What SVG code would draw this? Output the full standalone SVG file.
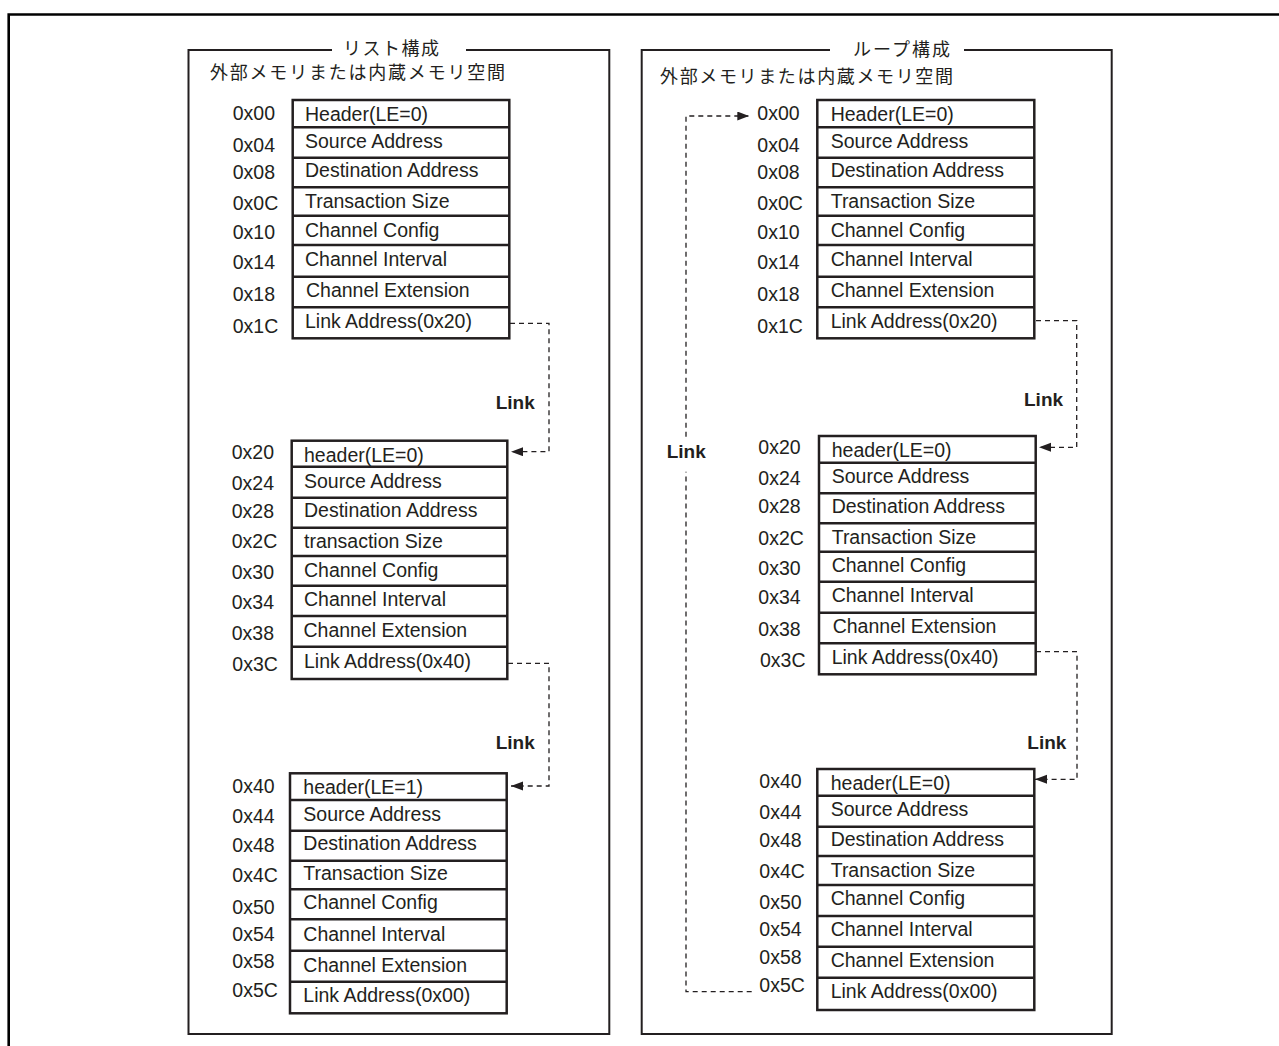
<svg xmlns="http://www.w3.org/2000/svg" width="1279" height="1046" viewBox="0 0 1279 1046">
<style>
.frame{fill:none;stroke:#000;stroke-width:2.6}
.panel{fill:none;stroke:#231f20;stroke-width:2}
.tbl{fill:#fff;stroke:#231f20;stroke-width:2.5}
.div{stroke:#231f20;stroke-width:2.5}
.t{font-family:"Liberation Sans",Arial,sans-serif;font-size:19.5px;fill:#231f20}
.lk{font-family:"Liberation Sans",Arial,sans-serif;font-size:19px;font-weight:bold;fill:#231f20}
.jp{font-family:"Noto Sans CJK JP","Noto Sans CJK SC",sans-serif;font-size:18px;fill:#231f20}
.dash{fill:none;stroke:#231f20;stroke-width:1.3;stroke-dasharray:5 4}
</style>
<defs>
<marker id="ah" markerUnits="userSpaceOnUse" markerWidth="12" markerHeight="10" refX="12" refY="4.5" orient="auto">
<path d="M0,0 L12,4.5 L0,9 z" fill="#231f20"/>
</marker>
</defs>
<rect width="1279" height="1046" fill="#fff"/>
<path class="frame" d="M8.7 1046 V14.5 H1279"/>

<g id="panel-list">
<path class="panel" d="M332 50 H188.5 V1034 H609.3 V50 H466"/>
<text class="jp" x="343" y="55" textLength="96">リスト構成</text>
<text class="jp" x="210" y="79" textLength="295">外部メモリまたは内蔵メモリ空間</text>
</g>
<g id="panel-loop">
<path class="panel" d="M830 50 H641.7 V1034 H1111.7 V50 H964"/>
<text class="jp" x="853" y="56" textLength="97">ループ構成</text>
<text class="jp" x="660" y="83" textLength="293">外部メモリまたは内蔵メモリ空間</text>
</g>

<g id="list-desc0">
<rect class="tbl" x="292.7" y="100" width="216.6" height="238.3"/>
<path class="div" d="M292.7 127.3H509.3M292.7 157.7H509.3M292.7 187.3H509.3M292.7 215.7H509.3M292.7 245H509.3M292.7 276.7H509.3M292.7 307.3H509.3"/>
<text class="t" x="305" y="120.7">Header(LE=0)</text>
<text class="t" x="305" y="148.3">Source Address</text>
<text class="t" x="305" y="176.7">Destination Address</text>
<text class="t" x="305" y="207.7">Transaction Size</text>
<text class="t" x="305" y="237.3">Channel Config</text>
<text class="t" x="305" y="266">Channel Interval</text>
<text class="t" x="306" y="296.7">Channel Extension</text>
<text class="t" x="305" y="327.7">Link Address(0x20)</text>
<text class="t" x="232.7" y="120">0x00</text>
<text class="t" x="232.7" y="151.7">0x04</text>
<text class="t" x="232.7" y="179.3">0x08</text>
<text class="t" x="232.7" y="210">0x0C</text>
<text class="t" x="232.7" y="239">0x10</text>
<text class="t" x="232.7" y="269.3">0x14</text>
<text class="t" x="232.7" y="300.7">0x18</text>
<text class="t" x="232.7" y="332.7">0x1C</text>
</g>

<g id="list-desc1">
<rect class="tbl" x="291.7" y="440.7" width="215.6" height="238.3"/>
<path class="div" d="M291.7 466.7H507.3M291.7 497.7H507.3M291.7 527.7H507.3M291.7 556H507.3M291.7 585.7H507.3M291.7 616H507.3M291.7 646.7H507.3"/>
<text class="t" x="304" y="461.7">header(LE=0)</text>
<text class="t" x="304" y="488.3">Source Address</text>
<text class="t" x="304" y="517.3">Destination Address</text>
<text class="t" x="304" y="548.3">transaction Size</text>
<text class="t" x="304" y="576.7">Channel Config</text>
<text class="t" x="304" y="606">Channel Interval</text>
<text class="t" x="303.5" y="637.3">Channel Extension</text>
<text class="t" x="304" y="667.7">Link Address(0x40)</text>
<text class="t" x="231.7" y="459">0x20</text>
<text class="t" x="231.7" y="490">0x24</text>
<text class="t" x="231.7" y="518.3">0x28</text>
<text class="t" x="231.7" y="548.3">0x2C</text>
<text class="t" x="231.7" y="579.3">0x30</text>
<text class="t" x="231.7" y="609.3">0x34</text>
<text class="t" x="231.7" y="640">0x38</text>
<text class="t" x="232.3" y="671">0x3C</text>
</g>

<g id="list-desc2">
<rect class="tbl" x="290" y="773.3" width="216.7" height="240"/>
<path class="div" d="M290 800H506.7M290 830.7H506.7M290 860.7H506.7M290 889.3H506.7M290 919.3H506.7M290 950.7H506.7M290 981.7H506.7"/>
<text class="t" x="303.3" y="794">header(LE=1)</text>
<text class="t" x="303.3" y="820.7">Source Address</text>
<text class="t" x="303.3" y="850">Destination Address</text>
<text class="t" x="303.3" y="880">Transaction Size</text>
<text class="t" x="303.3" y="909.3">Channel Config</text>
<text class="t" x="303.3" y="940.7">Channel Interval</text>
<text class="t" x="303.3" y="971.7">Channel Extension</text>
<text class="t" x="303.3" y="1001.7">Link Address(0x00)</text>
<text class="t" x="232.3" y="793.3">0x40</text>
<text class="t" x="232.3" y="823.3">0x44</text>
<text class="t" x="232.3" y="851.7">0x48</text>
<text class="t" x="232.3" y="881.7">0x4C</text>
<text class="t" x="232.3" y="914.3">0x50</text>
<text class="t" x="232.3" y="941">0x54</text>
<text class="t" x="232.3" y="968.3">0x58</text>
<text class="t" x="232.3" y="997.3">0x5C</text>
</g>

<g id="loop-desc0">
<rect class="tbl" x="817.3" y="100" width="217" height="238.3"/>
<path class="div" d="M817.3 127.3H1034.3M817.3 157.7H1034.3M817.3 187.3H1034.3M817.3 215.7H1034.3M817.3 245H1034.3M817.3 276.7H1034.3M817.3 307.3H1034.3"/>
<text class="t" x="830.7" y="120.7">Header(LE=0)</text>
<text class="t" x="830.7" y="148.3">Source Address</text>
<text class="t" x="830.7" y="176.7">Destination Address</text>
<text class="t" x="830.7" y="207.7">Transaction Size</text>
<text class="t" x="830.7" y="237.3">Channel Config</text>
<text class="t" x="830.7" y="266">Channel Interval</text>
<text class="t" x="830.7" y="296.7">Channel Extension</text>
<text class="t" x="830.7" y="327.7">Link Address(0x20)</text>
<text class="t" x="757.3" y="120">0x00</text>
<text class="t" x="757.3" y="151.7">0x04</text>
<text class="t" x="757.3" y="179.3">0x08</text>
<text class="t" x="757.3" y="210">0x0C</text>
<text class="t" x="757.3" y="239">0x10</text>
<text class="t" x="757.3" y="269.3">0x14</text>
<text class="t" x="757.3" y="300.7">0x18</text>
<text class="t" x="757.3" y="332.7">0x1C</text>
</g>

<g id="loop-desc1">
<rect class="tbl" x="819" y="436" width="216.7" height="238.3"/>
<path class="div" d="M819 462.7H1035.7M819 493.3H1035.7M819 523.3H1035.7M819 551.7H1035.7M819 581.7H1035.7M819 612.7H1035.7M819 643.3H1035.7"/>
<text class="t" x="831.7" y="456.7">header(LE=0)</text>
<text class="t" x="831.7" y="483.3">Source Address</text>
<text class="t" x="831.7" y="512.7">Destination Address</text>
<text class="t" x="831.7" y="544.3">Transaction Size</text>
<text class="t" x="831.7" y="572.3">Channel Config</text>
<text class="t" x="831.7" y="601.7">Channel Interval</text>
<text class="t" x="832.7" y="632.7">Channel Extension</text>
<text class="t" x="831.7" y="664">Link Address(0x40)</text>
<text class="t" x="758.3" y="454">0x20</text>
<text class="t" x="758.3" y="485">0x24</text>
<text class="t" x="758.3" y="513.3">0x28</text>
<text class="t" x="758.3" y="545">0x2C</text>
<text class="t" x="758.3" y="575">0x30</text>
<text class="t" x="758.3" y="604">0x34</text>
<text class="t" x="758.3" y="636">0x38</text>
<text class="t" x="760" y="666.7">0x3C</text>
</g>

<g id="loop-desc2">
<rect class="tbl" x="817.3" y="769" width="217" height="241"/>
<path class="div" d="M817.3 795.7H1034.3M817.3 826.7H1034.3M817.3 856H1034.3M817.3 885H1034.3M817.3 916H1034.3M817.3 946.7H1034.3M817.3 977.7H1034.3"/>
<text class="t" x="830.7" y="790">header(LE=0)</text>
<text class="t" x="830.7" y="816">Source Address</text>
<text class="t" x="830.7" y="845.7">Destination Address</text>
<text class="t" x="830.7" y="876.7">Transaction Size</text>
<text class="t" x="830.7" y="905">Channel Config</text>
<text class="t" x="830.7" y="935.7">Channel Interval</text>
<text class="t" x="830.7" y="967.3">Channel Extension</text>
<text class="t" x="830.7" y="997.7">Link Address(0x00)</text>
<text class="t" x="759.3" y="788.3">0x40</text>
<text class="t" x="759.3" y="819.3">0x44</text>
<text class="t" x="759.3" y="846.7">0x48</text>
<text class="t" x="759.3" y="878.3">0x4C</text>
<text class="t" x="759.3" y="909.3">0x50</text>
<text class="t" x="759.3" y="936">0x54</text>
<text class="t" x="759.3" y="964">0x58</text>
<text class="t" x="759.3" y="992.3">0x5C</text>
</g>

<g id="connectors">
<path class="dash" d="M510 323.3 H549 V451.7 H511" marker-end="url(#ah)"/>
<path class="dash" d="M508 663.3 H549 V786 H511" marker-end="url(#ah)"/>
<path class="dash" d="M1036 320.7 H1076.7 V447.3 H1039" marker-end="url(#ah)"/>
<path class="dash" d="M1036 651.7 H1077 V779.3 H1035" marker-end="url(#ah)"/>
<path class="dash" d="M751.7 991.7 H686 V471.7"/>
<path class="dash" d="M686 436.7 V116 H749.3" marker-end="url(#ah)"/>
<text class="lk" x="495.7" y="409.3">Link</text>
<text class="lk" x="495.7" y="749">Link</text>
<text class="lk" x="1024" y="406">Link</text>
<text class="lk" x="1027.3" y="749.3">Link</text>
<text class="lk" x="666.7" y="458.3">Link</text>
</g>
</svg>
